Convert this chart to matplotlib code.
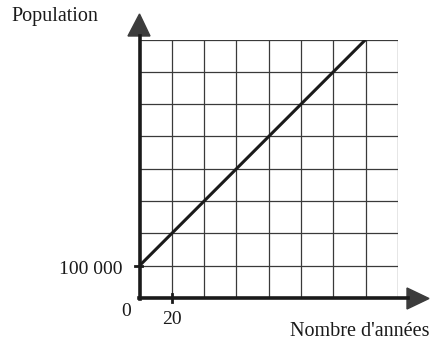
import matplotlib
matplotlib.use("Agg")
import matplotlib.pyplot as plt
from matplotlib.patches import Polygon

years = [0, 140]
population = [100000, 800000]
x_ticks = [20]
x_tick_labels = ["20"]
y_ticks = [100000]
y_tick_labels = ["100 000"]
x_grid = list(range(0, 161, 20))
y_grid = list(range(0, 800001, 100000))

W, H = 432, 343
fig = plt.figure(figsize=(W / 100, H / 100), dpi=100)
fig.patch.set_facecolor("white")

x0, x1 = 139.5, 398.0
y0, y1 = 298.0, 39.5
ax = fig.add_axes([x0 / W, (H - y0) / H, (x1 - x0) / W, (y0 - y1) / H])
ax.set_xlim(0, 160)
ax.set_ylim(0, 800000)
ax.axis("off")

serif = ["Liberation Serif", "DejaVu Serif"]

# grid
for gx in x_grid[1:]:
    ax.plot([gx, gx], [0, 800000], color="#3a3a3a", lw=0.9, zorder=1)
for gy in y_grid[1:]:
    ax.plot([0, 160], [gy, gy], color="#3a3a3a", lw=0.9, zorder=1)

# data line
ax.plot(years, population, color="#1a1a1a", lw=2.2, solid_capstyle="butt", zorder=3)

# axes in pixel-based coordinates via figure transform
def fx(px):
    return px / W

def fy(py):
    return (H - py) / H

# y axis line
fig.add_artist(plt.Line2D([fx(x0), fx(x0)], [fy(y0 + 1), fy(36)], color="#1a1a1a", lw=2.6, transform=fig.transFigure))
# x axis line
fig.add_artist(plt.Line2D([fx(x0 - 1), fx(408)], [fy(y0), fy(y0)], color="#1a1a1a", lw=2.6, transform=fig.transFigure))
# arrows
fig.add_artist(Polygon([[fx(128), fy(36)], [fx(150), fy(36)], [fx(139.5), fy(14)]], closed=True,
                       facecolor="#3c3c3c", edgecolor="#3c3c3c", transform=fig.transFigure))
fig.add_artist(Polygon([[fx(407), fy(288)], [fx(407), fy(309)], [fx(429), fy(298.5)]], closed=True,
                       facecolor="#3c3c3c", edgecolor="#3c3c3c", transform=fig.transFigure))

# ticks
for t in x_ticks:
    ax.plot([t, t], [-12000, 12000], color="#1a1a1a", lw=2.0, clip_on=False, zorder=4)
for t in y_ticks:
    ax.plot([-2.5, 1.5], [t, t], color="#1a1a1a", lw=2.0, clip_on=False, zorder=4)

# labels
for t, lab in zip(x_ticks, x_tick_labels):
    ax.text(t, -66000, lab, ha="center", va="center", fontsize=14, family=serif, color="#1a1a1a")
for t, lab in zip(y_ticks, y_tick_labels):
    ax.text(-10.5, t - 12000, lab, ha="right", va="center", fontsize=14, family=serif, color="#1a1a1a")

fig.text(fx(126), fy(312), "0", ha="center", va="center", fontsize=14, family=serif, color="#1a1a1a")
fig.text(fx(11), fy(17), "Population", ha="left", va="center", fontsize=14.5, family=serif, color="#1a1a1a")
fig.text(fx(430), fy(331), "Nombre d'années", ha="right", va="center", fontsize=14.5, family=serif, color="#1a1a1a")

fig.savefig("out.png", dpi=100, facecolor="white")
